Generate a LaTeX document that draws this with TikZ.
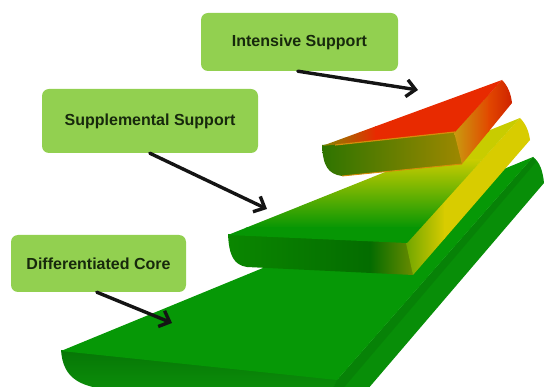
\documentclass[tikz,border=0pt]{standalone}
\usepackage{fontspec}
\setmainfont{Liberation Sans}
\usetikzlibrary{arrows.meta,calc}
\definecolor{boxgreen}{HTML}{92D050}
\definecolor{inktext}{HTML}{17290C}
\tikzset{
  labelbox/.style={fill=boxgreen,rounded corners=7pt,inner sep=0pt,font=\fontsize{16}{19}\selectfont\bfseries,text=inktext,align=center},
  pointer/.style={draw=black!92,line width=3.4pt,line cap=round,line join=round,-{Straight Barb[length=9pt,width=17pt,line width=3.4pt]}}
}
\begin{document}
\begin{tikzpicture}[x=1pt,y=-1pt]
\useasboundingbox (0,0) rectangle (544,387);
\begin{scope}
\clip (0,0) rectangle (544,387);
% bottom slab: front, then top and side
\begin{scope}
\clip (61,350) -- (338,379) -- (332,390) -- (112,390) .. controls (82,387) and (63,380) .. (61,350) -- cycle;
\shade[top color={rgb,255:red,6;green,118;blue,6},bottom color={rgb,255:red,12;green,142;blue,10}] (50,350) rectangle (345,390);
\end{scope}
\fill[fill={rgb,255:red,8;green,142;blue,8}] (337,380) -- (533,157) .. controls (540,162) and (543,172) .. (544,183) -- (367,390) -- (332,390) -- cycle;
\fill[fill={rgb,255:red,7;green,130;blue,7}] (337,380) -- (533,157) -- (536,162) -- (346,385) -- (341,390) -- (332,390) -- cycle;
\fill[fill={rgb,255:red,6;green,152;blue,6}] (61,351) -- (533,157) -- (337,380) -- cycle;
% middle slab: front
\begin{scope}
\clip (228,234) -- (408,242) -- (413,275) -- (247,267) .. controls (234,265) and (229,256) .. (228,234) -- cycle;
\shade[left color={rgb,255:red,10;green,135;blue,0},right color={rgb,255:red,4;green,108;blue,0}] (225,230) rectangle (371,280);
\shade[left color={rgb,255:red,4;green,108;blue,0},right color={rgb,255:red,110;green,140;blue,0}] (370,230) rectangle (415,280);
\end{scope}
% middle slab: side
\begin{scope}
\clip (406,243) -- (520,118) .. controls (526,124) and (529,132) .. (530,140) -- (413,275) -- cycle;
\shade[left color={rgb,255:red,110;green,165;blue,0},right color={rgb,255:red,216;green,204;blue,0}] (405,110) rectangle (445,280);
\fill[fill={rgb,255:red,216;green,204;blue,0}] (444,110) rectangle (535,280);
\end{scope}
% middle slab: top face
\begin{scope}
\clip (228,235) -- (520,118) -- (407,243) -- cycle;
\fill[fill={rgb,255:red,200;green,204;blue,0}] (220,110) rectangle (530,161);
\shade[top color={rgb,255:red,200;green,204;blue,0},bottom color={rgb,255:red,6;green,150;blue,4}] (220,160) rectangle (530,228);
\fill[fill={rgb,255:red,6;green,150;blue,4}] (220,227) rectangle (530,250);
\end{scope}
% top slab: front
\begin{scope}
\clip (322,145) -- (456,131) -- (462,164) -- (342,176) .. controls (328,174) and (323,166) .. (322,145) -- cycle;
\shade[left color={rgb,255:red,44;green,116;blue,0},right color={rgb,255:red,160;green,136;blue,0}] (320,125) rectangle (465,180);
\end{scope}
% top slab: side
\begin{scope}
\clip (454,132) -- (502,80) .. controls (508,86) and (511,94) .. (512,103) -- (462,164) -- cycle;
\shade[left color={rgb,255:red,200;green,160;blue,16},right color={rgb,255:red,226;green,72;blue,0}] (452,70) rectangle (489,170);
\shade[left color={rgb,255:red,226;green,72;blue,0},right color={rgb,255:red,205;green,30;blue,0}] (488,70) rectangle (515,170);
\end{scope}
% top slab: top face
\begin{scope}
\clip (322,146) -- (502,80) -- (455,132) -- cycle;
\shade[left color={rgb,255:red,130;green,140;blue,0},right color={rgb,255:red,232;green,42;blue,0}] (320,70) rectangle (376,150);
\fill[fill={rgb,255:red,232;green,42;blue,0}] (375,70) rectangle (510,150);
\end{scope}
\draw[draw={rgb,255:red,214;green,140;blue,10},line width=1.2pt] (335,145) -- (455,132);
\draw[draw={rgb,255:red,214;green,140;blue,10},line width=0.9pt] (342,176) -- (462,164);
\end{scope}
% labels
\node[labelbox,minimum width=197pt,minimum height=58pt] (intensive) at (299.5,42) {Intensive Support};
\node[labelbox,minimum width=216pt,minimum height=64pt] (supplemental) at (150,121) {Supplemental Support};
\node[labelbox,minimum width=175pt,minimum height=57pt] (core) at (98.5,263.5) {Differentiated Core};
% arrow tips
\coordinate (intensivetip) at (418,90);
\coordinate (supplementaltip) at (267,209);
\coordinate (coretip) at (172,323);
\draw[pointer] ($(intensive.south west)+(97,0)$) -- (intensivetip);
\draw[pointer] ($(supplemental.south west)+(108,0)$) -- (supplementaltip);
\draw[pointer] ($(core.south west)+(86,0)$) -- (coretip);
\end{tikzpicture}
\end{document}
